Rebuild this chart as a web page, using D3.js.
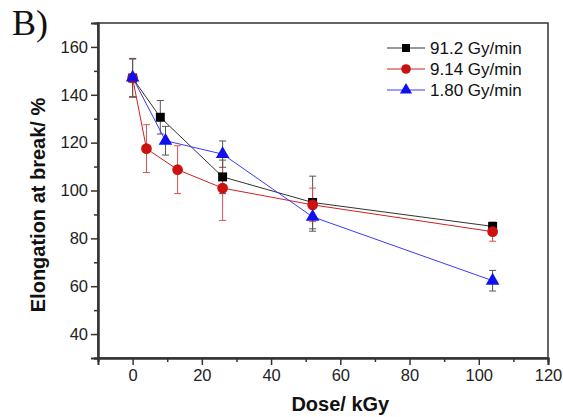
<!DOCTYPE html>
<html><head><meta charset="utf-8">
<script src="https://cdn.jsdelivr.net/npm/d3@7"></script>
<style>body{margin:0;background:#fff}svg{display:block}</style>
</head><body>
<svg id="c" width="563" height="417"></svg>
<script>
const seriesNames = ["91.2 Gy/min", "9.14 Gy/min", "1.80 Gy/min"];
const doseBlack = [0, 8, 26, 52, 104];
const valBlack  = [147, 130.6, 105.7, 95.0, 85.0];
const errBlack  = [8, 7, 7, 11, 1.5];
const doseRed = [0, 4, 13, 26, 52, 104];
const valRed  = [147, 117.5, 108.7, 101.0, 94.0, 82.8];
const errRed  = [8, 10, 10, 13.5, 7, 4];
const doseBlue = [0, 9.5, 26, 52, 104];
const valBlue  = [147.2, 120.8, 115.2, 89.0, 62.3];
const errBlue  = [8, 6, 5.5, 6, 4.3];
const xTicks = [0, 20, 40, 60, 80, 100, 120];
const yTicks = [40, 60, 80, 100, 120, 140, 160];

const svg = d3.select("#c");
const L = 98, R = 548, T = 23, B = 358;
const x = d3.scaleLinear().domain([-10, 120]).range([L, R]);
const y = d3.scaleLinear().domain([30, 170]).range([B, T]);

const series = [
  {name: seriesNames[0], d: doseBlack, v: valBlack, e: errBlack, line: "#333", fill: "#000", err: "#555", shape: d3.symbolSquare, size: 80},
  {name: seriesNames[1], d: doseRed, v: valRed, e: errRed, line: "#d02020", fill: "#cc1111", err: "#d85050", shape: d3.symbolCircle, size: 90},
  {name: seriesNames[2], d: doseBlue, v: valBlue, e: errBlue, line: "#3a3aff", fill: "#1010ee", err: "#555", shape: d3.symbolTriangle, size: 80}
];

// frame
svg.append("rect").attr("x", L).attr("y", T).attr("width", R - L).attr("height", B - T)
  .attr("fill", "none").attr("stroke", "#333").attr("stroke-width", 1.5);

// axes
const xAxis = d3.axisBottom(x).tickValues(xTicks).tickSize(7).tickPadding(4);
const gx = svg.append("g").attr("transform", `translate(0,${B})`).call(xAxis);
const yAxis = d3.axisLeft(y).tickValues(yTicks).tickSize(7).tickPadding(3);
const gy = svg.append("g").attr("transform", `translate(${L},0)`).call(yAxis);
// minor ticks
const gxm = svg.append("g").attr("transform", `translate(0,${B})`)
  .call(d3.axisBottom(x).tickValues(d3.range(-10, 120, 20)).tickSize(4).tickFormat(""));
const gym = svg.append("g").attr("transform", `translate(${L},0)`)
  .call(d3.axisLeft(y).tickValues(d3.range(30, 170, 20)).tickSize(4).tickFormat(""));
[gx, gy, gxm, gym].forEach(g => {
  g.select(".domain").attr("stroke", "#333").attr("stroke-width", 2);
  g.selectAll(".tick line").attr("stroke", "#333").attr("stroke-width", 1.5);
  g.selectAll(".tick text").attr("font-family", "Liberation Sans, Arial, sans-serif")
    .attr("font-size", 16.5).attr("fill", "#222");
});

// axis titles
svg.append("text").attr("x", x(60)).attr("y", 411).attr("text-anchor", "middle")
  .attr("font-family", "Liberation Sans, Arial, sans-serif").attr("font-weight", "bold")
  .attr("font-size", 20).attr("fill", "#111").text("Dose/ kGy");
svg.append("text").attr("transform", `translate(45,${(97 + 313) / 2}) rotate(-90)`)
  .attr("text-anchor", "middle")
  .attr("font-family", "Liberation Sans, Arial, sans-serif").attr("font-weight", "bold")
  .attr("font-size", 20).attr("fill", "#111").text("Elongation at break/ %");
svg.append("text").attr("x", 12).attr("y", 35)
  .attr("font-family", "Liberation Serif, Times New Roman, serif")
  .attr("font-size", 36).attr("fill", "#111").text("B)");

// data
series.forEach(s => {
  const pts = s.d.map((d, i) => ({d, v: s.v[i], e: s.e[i]}));
  const g = svg.append("g");
  g.append("path").datum(pts)
    .attr("d", d3.line().x(p => x(p.d)).y(p => y(p.v)))
    .attr("fill", "none").attr("stroke", s.line).attr("stroke-width", 1);
  const eb = g.selectAll(".eb").data(pts).enter().append("g");
  eb.append("line").attr("x1", p => x(p.d)).attr("x2", p => x(p.d))
    .attr("y1", p => y(p.v + p.e)).attr("y2", p => y(p.v - p.e))
    .attr("stroke", s.err).attr("stroke-width", 1);
  [1, -1].forEach(sg => {
    eb.append("line").attr("x1", p => x(p.d) - 3.5).attr("x2", p => x(p.d) + 3.5)
      .attr("y1", p => y(p.v + sg * p.e)).attr("y2", p => y(p.v + sg * p.e))
      .attr("stroke", s.err).attr("stroke-width", 1);
  });
});
series.forEach(s => {
  svg.append("g").selectAll("path").data(s.d.map((d, i) => ({d, v: s.v[i]}))).enter()
    .append("path")
    .attr("d", d3.symbol().type(s.shape).size(s.size))
    .attr("transform", p => `translate(${x(p.d)},${y(p.v)})`)
    .attr("fill", s.fill);
});

// legend
series.forEach((s, i) => {
  const ly = 48 + i * 21;
  const g = svg.append("g");
  g.append("line").attr("x1", 387).attr("x2", 425).attr("y1", ly).attr("y2", ly)
    .attr("stroke", s.line).attr("stroke-width", 1);
  g.append("path").attr("d", d3.symbol().type(s.shape).size(s.size * 0.8))
    .attr("transform", `translate(406,${ly})`).attr("fill", s.fill);
  g.append("text").attr("x", 430).attr("y", ly + 6)
    .attr("font-family", "Liberation Sans, Arial, sans-serif").attr("font-size", 17)
    .attr("fill", "#111").text(s.name);
});
</script>
</body></html>
